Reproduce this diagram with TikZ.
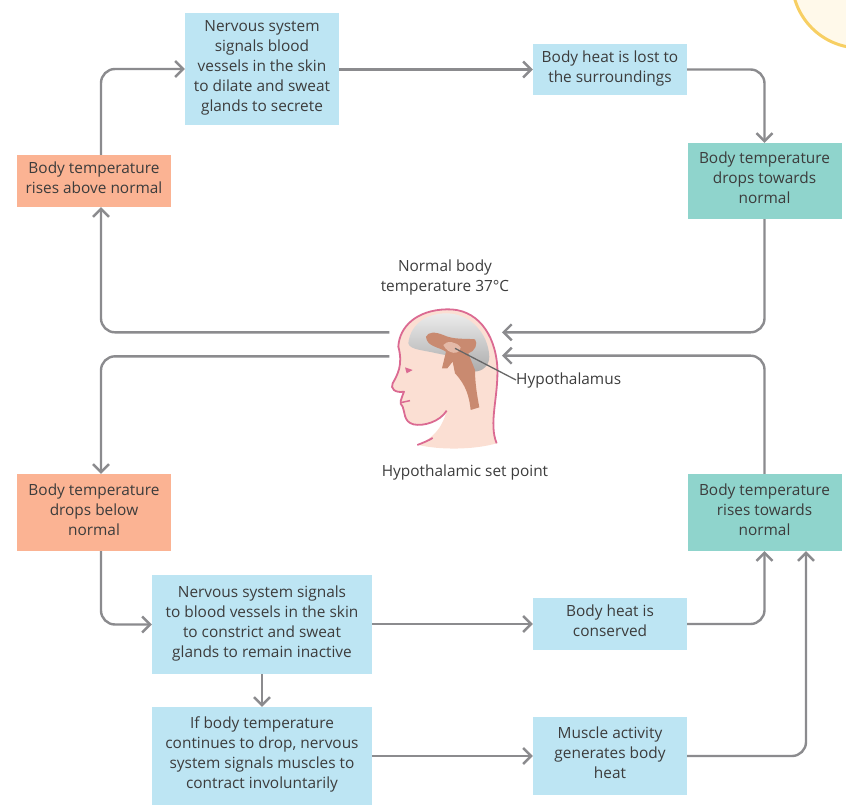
\documentclass[tikz,border=0pt]{standalone}
\usepackage{fontspec}
\setmainfont{Open Sans}
\usetikzlibrary{arrows.meta}
\definecolor{panelblue}{HTML}{BDE5F3}
\definecolor{panelteal}{HTML}{8FD4CC}
\definecolor{panelorange}{HTML}{FBB393}
\definecolor{flowgrey}{HTML}{8B8B8E}
\definecolor{inktext}{HTML}{3C3C3C}
\definecolor{skinfill}{HTML}{FBDFD3}
\definecolor{skinline}{HTML}{DB6A92}
\definecolor{brainbrown}{HTML}{C98A70}
\definecolor{sunline}{HTML}{F7CF63}
\definecolor{sunfill}{HTML}{FFF9EA}
\tikzset{
  flowarrow/.style={-{Straight Barb[length=8pt,width=16pt,line width=2.4pt]}, line width=2.4pt, draw=flowgrey, rounded corners=14pt},
  panel/.style={align=center, text=inktext, inner sep=0pt, text depth=6.5pt, font=\fontsize{15.4}{20}\selectfont},
  bluebox/.style={panel, fill=panelblue},
  tealbox/.style={panel, fill=panelteal, minimum width=154pt, minimum height=76pt},
  orangebox/.style={panel, fill=panelorange, minimum width=154pt},
  caption/.style={align=center, text=inktext, inner sep=0pt, font=\fontsize{15.4}{20}\selectfont}
}

\begin{document}
\begin{tikzpicture}[x=1pt, y=-1pt]
    \useasboundingbox (0,0) rectangle (846,805);
    % sun in the corner
    \begin{scope}
      \clip (0,0) rectangle (846,805);
      \fill[sunfill, draw=sunline, line width=3pt] (860,-20) circle (68);
    \end{scope}
    % boxes
    \node[bluebox, minimum width=154pt, minimum height=112pt] (signalup) at (262,69) {Nervous system\\signals blood\\vessels in the skin\\to dilate and sweat\\glands to secrete};
    \node[bluebox, minimum width=154pt, minimum height=51pt] (heatlost) at (610,69.5) {Body heat is lost to\\the surroundings};
    \node[tealbox] (dropstowards) at (764.5,181) {Body temperature\\drops towards\\normal};
    \node[orangebox, minimum height=52pt] (risesabove) at (94,181) {Body temperature\\rises above normal};
    \node[orangebox, minimum height=77pt] (dropsbelow) at (94,512.5) {Body temperature\\drops below\\normal};
    \node[tealbox, minimum height=77pt] (risestowards) at (764.5,512.5) {Body temperature\\rises towards\\normal};
    \node[bluebox, minimum width=220pt, minimum height=99pt] (signaldown) at (262,624.5) {Nervous system signals\\to blood vessels in the skin\\to constrict and sweat\\glands to remain inactive};
    \node[bluebox, minimum width=154pt, minimum height=52pt] (conserved) at (610,624) {Body heat is\\conserved};
    \node[bluebox, minimum width=220pt, minimum height=98pt] (shiver) at (262,756) {If body temperature\\continues to drop, nervous\\system signals muscles to\\contract involuntarily};
    \node[bluebox, minimum width=154pt, minimum height=78pt] (muscle) at (610,756) {Muscle activity\\generates body\\heat};
    % labels round the head
    \node[caption] (normaltemp) at (445,277) {Normal body\\temperature 37°C};
    \node[caption, anchor=west] (hypolabel) at (516,380) {Hypothalamus};
    \node[caption] (setpoint) at (465,472) {Hypothalamic set point};
    % head
    \begin{scope}[shift={(360,290)}, x=0.3333pt, y=-0.3333pt]
      \fill[skinfill] (115,170) .. controls (118,110) and (170,60) .. (260,58)
        .. controls (350,55) and (405,130) .. (412,230)
        .. controls (416,320) and (385,400) .. (410,460)
        .. controls (340,480) and (240,480) .. (175,465)
        .. controls (215,445) and (245,420) .. (260,362)
        .. controls (240,395) and (190,410) .. (160,403)
        .. controls (130,395) and (135,365) .. (128,350)
        .. controls (115,340) and (125,325) .. (132,305)
        .. controls (105,310) and (90,295) .. (98,280)
        .. controls (112,255) and (130,225) .. (115,170) -- cycle;
      \draw[skinline, line width=1.8pt, line join=round] (260,362)
        .. controls (240,395) and (190,410) .. (160,403)
        .. controls (130,395) and (135,365) .. (128,350)
        .. controls (115,340) and (125,325) .. (132,305)
        .. controls (105,310) and (90,295) .. (98,280)
        .. controls (112,255) and (130,225) .. (115,170)
        .. controls (118,110) and (170,60) .. (260,58)
        .. controls (350,55) and (405,130) .. (412,230)
        .. controls (416,320) and (385,400) .. (410,460);
      \draw[skinline, line width=1.8pt] (172,465) .. controls (190,458) and (205,452) .. (218,444);
      \draw[skinline, line width=1.5pt] (122,338) -- (150,332);
      \fill[skinline] (135,232) -- (158,240) -- (140,250) -- cycle;
      % brain and stem
      \shade[top color=gray!15, bottom color=gray!65] (145,160)
        .. controls (150,110) and (190,72) .. (255,70)
        .. controls (330,68) and (385,130) .. (388,200)
        .. controls (388,225) and (370,245) .. (340,245)
        -- (280,200) -- (230,190) .. controls (190,180) and (150,180) .. (145,160) -- cycle;
      \fill[brainbrown] (198,140) .. controls (205,125) and (225,125) .. (250,135)
        .. controls (280,150) and (320,145) .. (345,148)
        .. controls (355,160) and (345,185) .. (325,190)
        -- (345,240) .. controls (345,280) and (352,320) .. (358,352)
        -- (332,360) .. controls (328,320) and (318,285) .. (285,250)
        -- (278,215) -- (262,235) -- (246,235) -- (258,185)
        .. controls (235,170) and (200,170) .. (198,140) -- cycle;
      \fill[brainbrown!45!skinfill] (250,165) .. controls (260,150) and (290,155) .. (302,172)
        .. controls (300,195) and (265,195) .. (250,165) -- cycle;
      \coordinate (hypospot) at (285,175);
      \coordinate (headlefttop) at (88,127);
      \coordinate (headleftlow) at (88,199);
      \coordinate (headrighttop) at (426,127);
      \coordinate (headrightlow) at (426,197);
    \end{scope}
    \draw[line width=1.3pt, draw=black!60] (hypospot) -- (hypolabel.west);
    % lanes for the flow lines
    \coordinate (leftlane) at (101,0);
    \coordinate (farright) at (806,0);
    % flow lines
    \draw[flowarrow] (leftlane |- risesabove.north) -- (leftlane |- signalup.west) -- (signalup.west);
    \draw[flowarrow] (signalup.east |- heatlost.west) -- (heatlost.west);
    \draw[flowarrow] (heatlost.east) -| (dropstowards.north);
    \draw[flowarrow] (dropstowards.south) |- (headrighttop);
    \draw[flowarrow] (headlefttop) -- (leftlane |- headlefttop) -- (leftlane |- risesabove.south);
    \draw[flowarrow] (headleftlow) -- (leftlane |- headleftlow) -- (leftlane |- dropsbelow.north);
    \draw[flowarrow] (leftlane |- dropsbelow.south) |- (signaldown.west);
    \draw[flowarrow] (signaldown.east |- conserved.west) -- (conserved.west);
    \draw[flowarrow] (conserved.east) -| (risestowards.south);
    \draw[flowarrow] (risestowards.north) |- (headrightlow);
    \draw[flowarrow] (signaldown.south) -- (shiver.north);
    \draw[flowarrow] (shiver.east) -- (muscle.west);
    \draw[flowarrow] (muscle.east) -| (farright |- risestowards.south);
\end{tikzpicture}
\end{document}
